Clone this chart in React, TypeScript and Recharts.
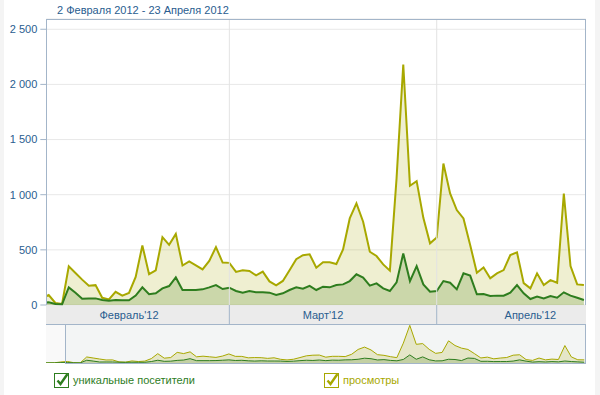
import React from 'react';
import { AreaChart, Area, XAxis, YAxis, CartesianGrid, ReferenceLine } from 'recharts';

// Days from 2 Feb 2012 to 23 Apr 2012 (index 0..81)
const startDate = '2012-02-02';
const visitors = [
  21, 24, 9, 6, 160, 112, 57, 60, 60, 45,
  39, 45, 42, 42, 85, 160, 97, 106, 151, 172,
  250, 136, 136, 136, 142, 160, 181, 145, 157, 127,
  112, 127, 115, 115, 112, 91, 106, 136, 160, 147,
  173, 136, 166, 160, 181, 187, 217, 278, 248, 175,
  196, 151, 127, 205, 468, 217, 353, 187, 121, 127,
  217, 202, 142, 287, 266, 97, 100, 82, 85, 85,
  112, 181, 106, 54, 76, 60, 82, 66, 115, 85,
  66, 45,
];
const views = [
  60, 90, 18, 10, 350, 290, 230, 175, 180, 65,
  50, 120, 85, 110, 255, 540, 280, 315, 615, 545,
  645, 358, 395, 360, 323, 400, 525, 385, 382, 300,
  315, 308, 268, 302, 214, 178, 218, 315, 416, 452,
  460, 338, 387, 387, 371, 504, 785, 921, 755, 483,
  444, 368, 311, 1150, 2180, 1081, 1123, 790, 559, 612,
  1283, 1012, 861, 785, 544, 293, 340, 242, 287, 317,
  453, 477, 198, 151, 287, 181, 226, 202, 1010, 353,
  187, 181,
];
// navigator shows three earlier days
const leadVisitors = [3, 4, 5];
const leadViews = [6, 8, 12];

const yTicks = [0, 500, 1000, 1500, 2000, 2500];
const monthTicks = [13, 42, 73]; // 15th of each month
const monthLabels = ["Февраль'12", "Март'12", "Апрель'12"];
const monthStarts = [28, 59]; // 1 March, 1 April

const title = '2 Февраля 2012 - 23 Апреля 2012';
const legendNames = ['уникальные посетители', 'просмотры'];

const data = visitors.map((v, i) => ({ k: i, visitors: v, views: views[i] }));
const navData = [
  ...leadVisitors.map((v, i) => ({ k: i - leadVisitors.length, visitors: v, views: leadViews[i] })),
  ...data,
];

const BLUE = '#2a5d8f';
const BORDER = '#a3b5c9';
const OLIVE = '#a8a800';
const GREEN = '#2e7d1e';
const FONT = "'Liberation Sans', Arial, sans-serif";

const fmt = (v: number) =>
  v >= 1000 ? `${Math.floor(v / 1000)} ${String(v % 1000).padStart(3, '0')}` : `${v}`;

const XTick = (props: any) => {
  const { x, y, payload } = props;
  const v = payload.value;
  if (monthStarts.includes(v)) {
    return <line x1={x} x2={x} y1={y} y2={y + 19} stroke={BORDER} strokeWidth={1} />;
  }
  const idx = monthTicks.indexOf(v);
  return (
    <text x={x} y={y + 14} textAnchor="middle" fill={BLUE} fontSize={11} fontFamily={FONT}>
      {idx >= 0 ? monthLabels[idx] : ''}
    </text>
  );
};

const Check = ({ color }: { color: string }) => (
  <svg width={18} height={16} style={{ position: 'absolute', left: 0, top: 0 }}>
    <rect x={0.5} y={1.5} width={14} height={14} fill="#fff" stroke={color} strokeWidth={1} />
    <path d="M3.5 8.5 L6.5 12 L13.5 2" fill="none" stroke={color} strokeWidth={2.4} />
  </svg>
);

export default function App() {
  return (
    <div
      style={{
        position: 'fixed',
        left: 0,
        top: 0,
        width: 600,
        height: 395,
        background: '#f4f4f4',
        fontFamily: FONT,
        overflow: 'hidden',
      }}
    >
      <div style={{ position: 'absolute', left: 4, top: 0, width: 591, height: 395, background: '#fff' }} />
      <div
        style={{
          position: 'absolute',
          left: 57,
          top: 4,
          fontSize: 11,
          lineHeight: '13px',
          color: BLUE,
          whiteSpace: 'nowrap',
        }}
      >
        {title}
      </div>
      {/* month band background */}
      <div
        style={{
          position: 'absolute',
          left: 46,
          top: 305,
          width: 540,
          height: 19,
          background: '#ebebeb',
        }}
      />
      <div style={{ position: 'absolute', left: 0, top: 0 }}>
        <AreaChart
          width={600}
          height={330}
          data={data}
          margin={{ top: 19, right: 14.3, bottom: 0, left: 0 }}
        >
          <CartesianGrid vertical={false} stroke="#e8e8e8" />
          <ReferenceLine x={monthStarts[0]} stroke="#e3e3e3" />
          <ReferenceLine x={monthStarts[1]} stroke="#e3e3e3" />
          <XAxis
            dataKey="k"
            type="number"
            domain={[0.64, 81.27]}
            allowDataOverflow
            ticks={[monthTicks[0], monthStarts[0], monthTicks[1], monthStarts[1], monthTicks[2]]}
            interval={0}
            tick={<XTick />}
            tickLine={false}
            axisLine={false}
            tickSize={0}
            tickMargin={0}
            height={25}
          />
          <YAxis
            type="number"
            domain={[0, 2593]}
            ticks={yTicks}
            tickFormatter={fmt}
            width={46.3}
            tickSize={6}
            tickMargin={3}
            axisLine={false}
            tickLine={{ stroke: BORDER }}
            tick={{ fill: BLUE, fontSize: 11, fontFamily: FONT }}
          />
          <Area
            type="linear"
            dataKey="views"
            stroke={OLIVE}
            strokeWidth={2}
            fill={OLIVE}
            fillOpacity={0.18}
            dot={false}
            activeDot={false}
            isAnimationActive={false}
          />
          <Area
            type="linear"
            dataKey="visitors"
            stroke={GREEN}
            strokeWidth={2}
            fill="#3a7a10"
            fillOpacity={0.2}
            dot={false}
            activeDot={false}
            isAnimationActive={false}
          />
        </AreaChart>
      </div>
      {/* plot border */}
      <div
        style={{
          position: 'absolute',
          left: 46,
          top: 19,
          width: 540,
          height: 286,
          boxSizing: 'border-box',
          borderTop: `1px solid ${BORDER}`,
          borderLeft: `1px solid ${BORDER}`,
          borderRight: `1px solid ${BORDER}`,
          pointerEvents: 'none',
        }}
      />
      {/* navigator */}
      <div
        style={{
          position: 'absolute',
          left: 46,
          top: 324,
          width: 540,
          height: 39,
          background: '#f3f5f5',
        }}
      />
      <div
        style={{
          position: 'absolute',
          left: 46,
          top: 324,
          width: 19,
          height: 39,
          background: '#f9f9f9',
        }}
      />
      <div style={{ position: 'absolute', left: 46, top: 324 }}>
        <AreaChart width={540} height={39} data={navData} margin={{ top: 1, right: 0, bottom: 0, left: 0 }}>
          <XAxis dataKey="k" type="number" domain={[-2.3, 81.27]} allowDataOverflow hide />
          <YAxis type="number" domain={[0, 2200]} hide />
          <Area
            type="linear"
            dataKey="views"
            stroke={OLIVE}
            strokeWidth={1}
            fill={OLIVE}
            fillOpacity={0.18}
            dot={false}
            activeDot={false}
            isAnimationActive={false}
          />
          <Area
            type="linear"
            dataKey="visitors"
            stroke={GREEN}
            strokeWidth={1}
            fill="#3a7a10"
            fillOpacity={0.2}
            dot={false}
            activeDot={false}
            isAnimationActive={false}
          />
        </AreaChart>
      </div>
      <div
        style={{
          position: 'absolute',
          left: 46,
          top: 324,
          width: 540,
          height: 1,
          background: BORDER,
        }}
      />
      <div
        style={{
          position: 'absolute',
          left: 65,
          top: 324,
          width: 521,
          height: 40,
          boxSizing: 'border-box',
          border: `1px solid ${BORDER}`,
          pointerEvents: 'none',
        }}
      />
      {/* legend */}
      <div style={{ position: 'absolute', left: 54, top: 372, width: 200, height: 16 }}>
        <Check color={GREEN} />
        <div style={{ position: 'absolute', left: 19, top: 2, fontSize: 11, lineHeight: '13px', color: GREEN, whiteSpace: 'nowrap' }}>
          {legendNames[0]}
        </div>
      </div>
      <div style={{ position: 'absolute', left: 324, top: 372, width: 200, height: 16 }}>
        <Check color={OLIVE} />
        <div style={{ position: 'absolute', left: 19, top: 2, fontSize: 11, lineHeight: '13px', color: OLIVE, whiteSpace: 'nowrap' }}>
          {legendNames[1]}
        </div>
      </div>
    </div>
  );
}
